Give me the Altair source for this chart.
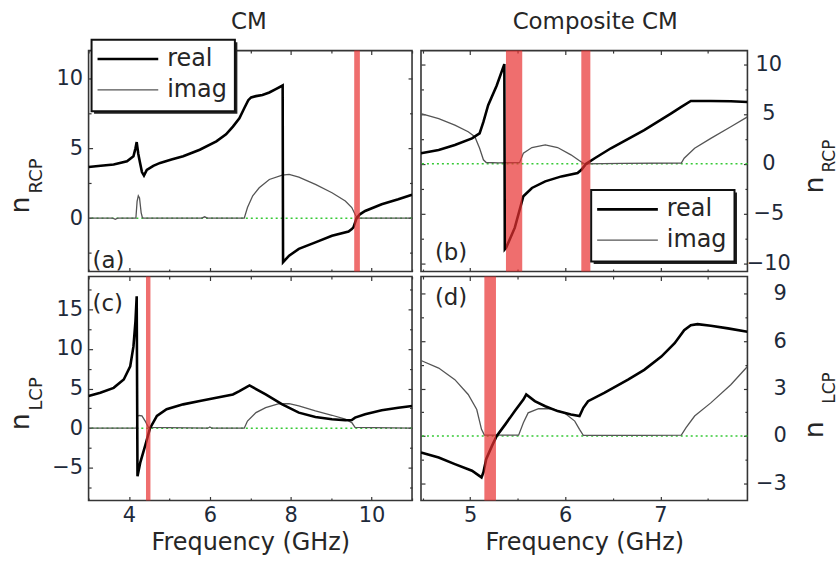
import altair as alt
import pandas as pd

FONT = "DejaVu Sans"
INK = "#262626"
LABEL_INK = "#1e2a3a"
FRAME = "#353535"
BAND_RED = "#e83030"
ZERO_GREEN = "#35c935"

series = ["real", "imag"]

# ---- (a) CM, n_RCP ----
a_real_f = [3.0, 3.3, 3.62, 3.95, 4.11, 4.16, 4.19, 4.23, 4.27, 4.32, 4.37, 4.44, 4.6, 4.77,
            5.05, 5.34, 5.75, 6.16, 6.4, 6.57, 6.73, 6.85, 6.95, 7.02, 7.14, 7.3, 7.47, 7.63,
            7.8, 7.81, 7.96, 8.2, 8.61, 9.02, 9.43, 9.51, 9.55, 9.63, 9.71, 9.84, 10.25, 10.66, 11.0]
a_real_n = [3.67, 3.75, 3.84, 4.08, 4.43, 5.0, 5.45, 4.6, 4.0, 3.3, 3.05, 3.45, 3.75, 3.96,
            4.2, 4.43, 4.9, 5.5, 6.0, 6.56, 7.16, 7.87, 8.45, 8.65, 8.74, 8.82, 9.0, 9.24,
            9.5, -3.15, -2.68, -2.2, -1.73, -1.26, -0.95, -0.78, -0.66, 0.0, 0.28, 0.52, 1.0, 1.35, 1.68]
a_imag_f = [3.0, 3.6, 3.66, 3.72, 4.17, 4.2, 4.23, 4.26, 4.3, 4.33, 4.36, 5.8, 5.87, 5.94,
            6.85, 6.93, 7.06, 7.22, 7.47, 7.79, 7.96, 8.2, 8.61, 9.02, 9.35, 9.51, 9.59, 9.64, 11.0]
a_imag_n = [0.0, 0.0, -0.08, 0.0, 0.0, 1.2, 1.6, 1.45, 0.4, 0.05, 0.0, 0.0, 0.1, 0.0,
            0.0, 0.76, 1.6, 2.18, 2.77, 3.08, 3.13, 2.94, 2.42, 1.82, 1.23, 0.76, 0.28, 0.0, 0.0]
a_bands = [(9.57, 9.71)]

# ---- (b) Composite CM, n_RCP ----
b_real_f = [4.484, 4.67, 4.84, 5.02, 5.1, 5.14, 5.19, 5.28, 5.36, 5.365, 5.38, 5.47, 5.56,
            5.65, 5.79, 5.96, 6.13, 6.17, 6.22, 6.31, 6.48, 6.83, 7.11, 7.22, 7.32, 7.53, 7.74, 7.915]
b_real_n = [1.06, 1.39, 1.89, 2.55, 3.05, 4.2, 5.87, 7.86, 10.0, -8.56, -8.39, -6.4, -3.25,
            -2.42, -1.76, -1.26, -0.93, -0.6, 0.0, 0.56, 1.56, 3.38, 5.04, 5.7, 6.3, 6.3, 6.27, 6.2]
b_imag_f = [4.484, 4.67, 4.84, 4.98, 5.05, 5.1, 5.14, 5.17, 5.3, 5.52, 5.56, 5.65, 5.79,
            5.92, 6.06, 6.15, 6.2, 6.6, 7.22, 7.25, 7.36, 7.53, 7.74, 7.915]
b_imag_n = [5.04, 4.54, 3.88, 3.22, 2.72, 1.56, 0.4, 0.13, 0.1, 0.12, 1.06, 1.63, 1.89,
            1.63, 0.9, 0.3, 0.0, 0.05, 0.08, 0.56, 1.56, 2.55, 3.71, 4.71]
b_bands = [(5.377, 5.548), (6.169, 6.264)]

# ---- (c) CM, n_LCP ----
c_real_f = [3.0, 3.29, 3.62, 3.87, 4.03, 4.11, 4.16, 4.19, 4.21, 4.28, 4.4, 4.52, 4.69, 4.93,
            5.34, 5.75, 6.16, 6.57, 6.73, 6.98, 7.38, 7.79, 8.2, 8.61, 9.02, 9.35, 9.51, 9.59,
            9.84, 10.25, 10.66, 11.0]
c_real_n = [4.04, 4.46, 5.08, 6.13, 7.8, 10.3, 13.5, 16.6, -6.04, -4.3, -2.2, 0.0, 1.54, 2.38,
            3.0, 3.42, 3.83, 4.25, 4.67, 5.38, 4.25, 3.0, 1.96, 1.42, 1.13, 1.0, 1.04, 1.33,
            1.75, 2.25, 2.58, 2.8]
c_imag_f = [3.0, 4.18, 4.21, 4.25, 4.32, 4.4, 4.48, 5.95, 6.0, 6.05, 6.85, 6.93, 7.14, 7.38,
            7.71, 7.96, 8.2, 8.61, 9.02, 9.35, 9.51, 9.59, 11.0]
c_imag_n = [0.0, 0.0, 1.5, 1.6, 1.54, 0.9, 0.1, 0.0, 0.15, 0.0, 0.0, 0.9, 1.96, 2.58,
            3.08, 3.1, 2.8, 2.17, 1.63, 1.13, 0.71, 0.1, 0.0]
c_bands = [(4.42, 4.53)]

# ---- (d) Composite CM, n_LCP ----
d_real_f = [4.484, 4.67, 4.84, 5.02, 5.12, 5.14, 5.17, 5.23, 5.28, 5.37, 5.47, 5.56, 5.59,
            5.68, 5.79, 5.92, 6.06, 6.15, 6.19, 6.24, 6.41, 6.66, 6.83, 7.01, 7.15, 7.25, 7.32,
            7.39, 7.53, 7.71, 7.915]
d_real_n = [-1.05, -1.36, -1.78, -2.2, -2.62, -2.3, -1.46, -0.63, 0.0, 0.73, 1.57, 2.3, 2.62,
            2.2, 1.88, 1.57, 1.36, 1.26, 1.78, 2.2, 2.72, 3.56, 4.18, 5.02, 5.86, 6.69, 7.0,
            7.07, 6.97, 6.8, 6.59]
d_imag_f = [4.484, 4.67, 4.84, 4.98, 5.07, 5.12, 5.15, 5.3, 5.51, 5.56, 5.61, 5.72, 5.86,
            5.99, 6.1, 6.15, 6.19, 6.8, 7.22, 7.27, 7.36, 7.53, 7.74, 7.915]
d_imag_n = [4.77, 4.29, 3.56, 2.62, 1.67, 0.42, 0.06, 0.05, 0.05, 0.84, 1.46, 1.72, 1.72,
            1.46, 0.94, 0.42, 0.04, 0.03, 0.05, 0.52, 1.26, 2.09, 3.24, 4.39]
d_bands = [(5.15, 5.272)]

# axis ranges, major and minor ticks
cm_x = [3, 11]
comp_x = [4.484, 7.915]
cm_xticks, cm_xminor = [4, 6, 8, 10], [3, 5, 7, 9, 11]
comp_xticks, comp_xminor = [5, 6, 7], [4.5, 5.5, 6.5, 7.5]
a_y, a_yticks, a_yminor = [-3.82, 12.0], [0, 5, 10], [-2.5, 2.5, 7.5]
b_y, b_yticks, b_yminor = [-10.8, 11.35], [-10, -5, 0, 5, 10], [-7.5, -2.5, 2.5, 7.5]
c_y, c_yticks, c_yminor = [-9.1, 19.1], [-5, 0, 5, 10, 15], [-7.5, -2.5, 2.5, 7.5, 12.5, 17.5]
d_y, d_yticks, d_yminor = [-4.08, 10.08], [-3, 0, 3, 6, 9], [-1.5, 1.5, 4.5, 7.5]

MAJOR, MINOR = 4, 2.5


def one_text(txt, x, y, size, **kw):
    return alt.Chart(pd.DataFrame({"t": [txt]})).mark_text(
        font=FONT, fontSize=size, color=INK, **kw
    ).encode(text="t:N", x=alt.value(x), y=alt.value(y))


def legend(x0, y0):
    """Boxed legend with a drop shadow; (x0, y0) is the box's top-left corner."""
    w, h = 144, 72
    box = pd.DataFrame({"k": [0]})
    shadow = alt.Chart(box).mark_rect(fill="#222222").encode(
        x=alt.value(x0 + 2.5), x2=alt.value(x0 + w + 2.5),
        y=alt.value(y0 + 2.5), y2=alt.value(y0 + h + 2.5))
    frame = alt.Chart(box).mark_rect(fill="white", stroke="#111111", strokeWidth=2).encode(
        x=alt.value(x0), x2=alt.value(x0 + w), y=alt.value(y0), y2=alt.value(y0 + h))
    parts = [shadow, frame]
    styles = [(2.6, "#000000"), (1.3, "#555555")]
    for i, name in enumerate(series):
        yy = y0 + 19.5 + i * 31
        sw, col = styles[i]
        parts.append(alt.Chart(box).mark_rule(color=col, strokeWidth=sw).encode(
            x=alt.value(x0 + 6), x2=alt.value(x0 + 67), y=alt.value(yy)))
        parts.append(one_text(name, x0 + 76, yy, 24, align="left", baseline="middle"))
    return parts


def inward(orient, values, size, **kw):
    # ticks drawn inside the frame: shift the axis line in by the tick length
    return alt.Axis(orient=orient, values=values, domain=False, grid=False,
                    offset=-size, tickSize=size, **kw)


def panel(real_f, real_n, imag_f, imag_n, bands, xdom, ydom, w, h, xticks, xminor,
          yticks, yminor, side, bottom, label_align, label_pad, extras):
    xs = alt.Scale(domain=xdom, nice=False, zero=False)
    ys = alt.Scale(domain=ydom, nice=False, zero=False)
    other = "left" if side == "right" else "right"

    real = pd.DataFrame({"f": real_f, "n": real_n})
    imag = pd.DataFrame({"f": imag_f, "n": imag_n})
    band = pd.DataFrame({"lo": [b[0] for b in bands], "hi": [b[1] for b in bands]})

    x_main = inward("bottom", xticks, MAJOR, labels=bottom, labelPadding=4,
                    titlePadding=5, labelFontSize=21)
    y_main = inward(side, yticks, MAJOR, labelPadding=label_pad - 1,
                    labelAlign=label_align, labelFontSize=21)
    x_twin = inward("top", xticks, MAJOR, labels=False)
    y_twin = inward(other, yticks, MAJOR, labels=False)

    zero = alt.Chart(pd.DataFrame({"n": [0]})).mark_rule(
        color=ZERO_GREEN, strokeDash=[2, 3], strokeWidth=1.6
    ).encode(y=alt.Y("n:Q", scale=ys, axis=None))

    imag_line = alt.Chart(imag).mark_line(color="#555555", strokeWidth=1.3, clip=True).encode(
        x=alt.X("f:Q", scale=xs, axis=x_twin, title=None),
        y=alt.Y("n:Q", scale=ys, axis=y_twin, title=None))

    real_line = alt.Chart(real).mark_line(color="#000000", strokeWidth=2.6, clip=True).encode(
        x=alt.X("f:Q", scale=xs, axis=x_main,
                title="Frequency (GHz)" if bottom else None),
        y=alt.Y("n:Q", scale=ys, axis=y_main, title=None))

    # invisible copies of the real curve that carry the minor tick marks
    minor_a = alt.Chart(real).mark_line(opacity=0).encode(
        x=alt.X("f:Q", scale=xs, title=None,
                axis=inward("bottom", xminor, MINOR, labels=False)),
        y=alt.Y("n:Q", scale=ys, title=None,
                axis=inward(side, yminor, MINOR, labels=False)))
    minor_b = alt.Chart(real).mark_line(opacity=0).encode(
        x=alt.X("f:Q", scale=xs, title=None,
                axis=inward("top", xminor, MINOR, labels=False)),
        y=alt.Y("n:Q", scale=ys, title=None,
                axis=inward(other, yminor, MINOR, labels=False)))

    red = alt.Chart(band).mark_rect(color=BAND_RED, opacity=0.7).encode(
        x=alt.X("lo:Q", scale=xs, axis=None), x2="hi:Q",
        y=alt.value(0), y2=alt.value(h))

    return alt.layer(zero, imag_line, real_line, minor_a, minor_b, red, *extras).resolve_axis(
        x="independent", y="independent").properties(width=w, height=h)


W_L, W_R = 325, 328
H_T, H_B = 222, 225

pa = panel(a_real_f, a_real_n, a_imag_f, a_imag_n, a_bands, cm_x, a_y, W_L, H_T,
           cm_xticks, cm_xminor, a_yticks, a_yminor, "left", False, "right", 7,
           [one_text("CM", 161, -29, 23, align="center"),
            one_text("(a)", 4, 211, 23, align="left", baseline="middle"),
            one_text("n", -68, 155, 27, angle=270, align="center"),
            one_text("RCP", -52, 126, 18, angle=270, align="center"),
            *legend(3, -11)])

pb = panel(b_real_f, b_real_n, b_imag_f, b_imag_n, b_bands, comp_x, b_y, W_R, H_T,
           comp_xticks, comp_xminor, b_yticks, b_yminor, "right", False, "center", 22,
           [one_text("Composite CM", 175, -29, 23, align="center"),
            one_text("(b)", 14, 203, 23, align="left", baseline="middle"),
            one_text("n", 396, 135, 27, angle=270, align="center"),
            one_text("RCP", 411, 106, 17, angle=270, align="center"),
            *legend(171, 140)])

pc = panel(c_real_f, c_real_n, c_imag_f, c_imag_n, c_bands, cm_x, c_y, W_L, H_B,
           cm_xticks, cm_xminor, c_yticks, c_yminor, "left", True, "right", 7,
           [one_text("(c)", 4, 28, 23, align="left", baseline="middle"),
            one_text("n", -68, 146, 27, angle=270, align="center"),
            one_text("LCP", -52, 118, 18, angle=270, align="center")])

pd_ = panel(d_real_f, d_real_n, d_imag_f, d_imag_n, d_bands, comp_x, d_y, W_R, H_B,
            comp_xticks, comp_xminor, d_yticks, d_yminor, "right", True, "right", 40,
            [one_text("(d)", 14, 22, 23, align="left", baseline="middle"),
             one_text("n", 396, 154, 27, angle=270, align="center"),
             one_text("LCP", 411, 112, 17, angle=270, align="center")])

chart = alt.concat(pa, pb, pc, pd_, columns=2, spacing={"row": 0, "column": 5}).properties(
    padding={"left": 6, "top": 8.5, "right": 0, "bottom": 6}
).configure_view(
    stroke=FRAME, strokeWidth=1.6
).configure_axis(
    labelFont=FONT, labelColor=LABEL_INK, tickColor=FRAME, tickWidth=1.2,
    titleFont=FONT, titleFontSize=24, titleFontWeight="normal", titleColor=INK
)

chart.save("out.html", embed_options={"renderer": "svg", "actions": False})
